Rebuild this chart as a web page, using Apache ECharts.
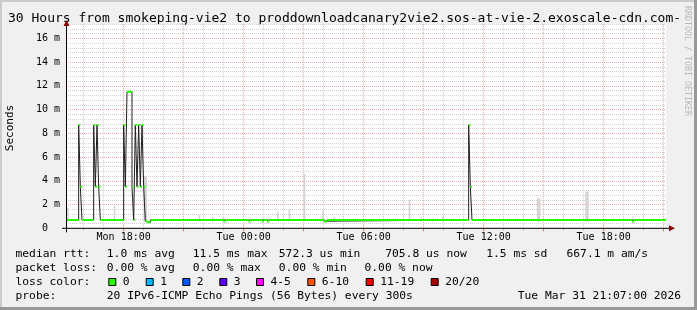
<!DOCTYPE html>
<html><head><meta charset="utf-8">
<script src="https://cdn.jsdelivr.net/npm/echarts@6/dist/echarts.min.js"></script>
<style>html,body{margin:0;padding:0;background:#f0f0f0}#c{width:697px;height:310px}</style>
</head><body><div id="c"></div>
<script>
// ---------- data ----------
const TITLE = '30 Hours from smokeping-vie2 to proddownloadcanary2vie2.sos-at-vie-2.exoscale-cdn.com-';
const X_MIN = 907;   // minutes since Mon 00:00 (Mon 15:07)
const X_MAX = 2707;  // Tue 21:07
const Y_MAX = 17.2;  // milliseconds
const xLabelValues = [1080, 1440, 1800, 2160, 2520];
const xLabelTexts = ['Mon 18:00', 'Tue 00:00', 'Tue 06:00', 'Tue 12:00', 'Tue 18:00'];
const yLabelValues = [0, 2, 4, 6, 8, 10, 12, 14, 16];
const yLabelTexts = ['{z|0}', '2 m', '4 m', '6 m', '8 m', '10 m', '12 m', '14 m', '16 m'];

// median RTT (ms), step changes: value holds from time until next time
const medianTime  = [907, 945, 950, 955, 990, 995, 1000, 1005, 1010, 1080, 1085, 1090, 1105, 1110, 1115, 1120, 1125, 1130, 1135, 1140, 1145, 1150, 1160, 1380, 1385, 1455, 1460, 1495, 1500, 1510, 1515, 1680, 1690, 2115, 2120, 2125, 2605, 2610];
const medianValue = [0.7, 8.7, 3.5, 0.7, 8.7, 3.5, 8.7, 3.5, 0.7, 8.7, 3.5, 11.5, 3.5, 0.7, 8.7, 3.5, 8.7, 3.5, 8.7, 3.5, 0.6, 0.5, 0.7, 0.6, 0.7, 0.6, 0.7, 0.6, 0.7, 0.6, 0.7, 0.6, 0.7, 8.7, 3.5, 0.7, 0.6, 0.7];

// smoke (spread of the 20 pings), ms
const smokeStart = [910, 1050, 1140, 1305, 1345, 1375, 1540, 1575, 1620, 1675, 1710, 1935, 1970, 2005, 2035, 2320, 2465, 2545];
const smokeEnd   = [915, 1055, 1150, 1310, 1350, 1380, 1545, 1580, 1625, 1680, 1715, 1940, 1975, 2010, 2040, 2330, 2475, 2550];
const smokeLow   = [0.55, 0.55, 0.6, 0.55, 0.55, 0.55, 0.55, 0.55, 0.55, 0.55, 0.55, 0.55, 0.55, 0.55, 0.55, 0.55, 0.55, 0.55];
const smokeHigh  = [1.7, 1.9, 4.4, 1.1, 0.95, 0.9, 1.4, 1.55, 4.6, 1.5, 0.95, 2.4, 0.9, 0.85, 1.0, 2.5, 3.1, 0.85];

// legend texts
const statRows = [
  ['median rtt:', '1.0 ms avg', '11.5 ms max', '572.3 us min', '705.8 us now', '1.5 ms sd', '667.1 m am/s'],
  ['packet loss:', '0.00 % avg', '0.00 % max', '0.00 % min', '0.00 % now']
];
const lossLabels = ['0', '1', '2', '3', '4-5', '6-10', '11-19', '20/20'];
const lossColors = ['#26ff00', '#00b8ff', '#0059ff', '#5e00ff', '#ff00ff', '#ff5500', '#ff0000', '#a10000'];
const probeText = '20 IPv6-ICMP Echo Pings (56 Bytes) every 300s';
const dateText = 'Tue Mar 31 21:07:00 2026';
const watermark = 'RRDTOOL / TOBI OETIKER';

// ---------- layout ----------
const G = {left: 66, top: 24, width: 600, height: 204.3};
const MONO = "'DejaVu Sans Mono', monospace";

const hourTicks = []; for (let m = 960; m <= 2700; m += 60) if (m % 180 !== 0) hourTicks.push(m);
const majorTicks = []; for (let m = 1080; m <= 2700; m += 180) majorTicks.push(m);
const yMinor = []; for (let k = 1; k * 0.4 <= Y_MAX + 1e-9; k++) if (k % 5 !== 0) yMinor.push(+(k * 0.4).toFixed(1));

const medianLine = medianTime.map((t, i) => [t, medianValue[i]]);
medianLine.push([X_MAX, medianValue[medianValue.length - 1]]);
const medianSegs = medianTime.map((t, i) => [t, i + 1 < medianTime.length ? medianTime[i + 1] : X_MAX, medianValue[i]]);
const smokeData = smokeStart.map((s, i) => [s, smokeEnd[i], smokeLow[i], smokeHigh[i]]);

const gridDash = {type: [1, 1], width: 1};
const chart = echarts.init(document.getElementById('c'), null, {renderer: 'canvas'});

const legendX = [16, 107.3, 193.3, 279.3, 385.7, 486.7, 567];
const legendX2 = [16, 107.3, 193.3, 279.3, 365];
const sqX = [108.3, 145.7, 182.3, 219.3, 256, 307.3, 365.7, 430.7];
const rowY = [254, 268, 282, 296];
const LF = "11.3px " + MONO;

const graphics = [];
// borders
graphics.push({type: 'rect', shape: {x: 0, y: 0, width: 697, height: 2}, style: {fill: '#cbcbcb'}, silent: true});
graphics.push({type: 'rect', shape: {x: 0, y: 0, width: 2, height: 310}, style: {fill: '#cbcbcb'}, silent: true});
graphics.push({type: 'rect', shape: {x: 694, y: 0, width: 3, height: 310}, style: {fill: '#999'}, silent: true});
graphics.push({type: 'rect', shape: {x: 0, y: 307, width: 697, height: 3}, style: {fill: '#999'}, silent: true});
// title
graphics.push({type: 'text', x: 8, y: 19, style: {text: TITLE, font: "13px " + MONO, fill: '#000', align: 'left', verticalAlign: 'middle'}});
// unit
graphics.push({type: 'text', x: 10, y: 128, rotation: Math.PI / 2, style: {text: 'Seconds', font: "11px " + MONO, fill: '#000', align: 'center', verticalAlign: 'middle'}});
// watermark
graphics.push({type: 'text', x: 687, y: 61, rotation: -Math.PI / 2, style: {text: watermark, font: "8.3px " + MONO, fill: '#b8b8b8', align: 'center', verticalAlign: 'middle'}});
// axes lines + arrows
const axY = G.top + G.height;
graphics.push({type: 'line', shape: {x1: 62, y1: axY, x2: 670, y2: axY}, style: {stroke: '#000', lineWidth: 1}, z: 50});
graphics.push({type: 'line', shape: {x1: G.left + 0.5, y1: axY + 4, x2: G.left + 0.5, y2: 22}, style: {stroke: '#000', lineWidth: 1}, z: 50});
graphics.push({type: 'polygon', shape: {points: [[669, axY - 3], [669, axY + 3], [675, axY]]}, style: {fill: '#8b0000'}, z: 51});
graphics.push({type: 'polygon', shape: {points: [[G.left - 2.5, 26], [G.left + 3.5, 26], [G.left + 0.5, 20]]}, style: {fill: '#8b0000'}, z: 51});
// legend rows
statRows[0].forEach((t, i) => graphics.push({type: 'text', x: legendX[i] - 0.5, y: rowY[0], style: {text: t, font: LF, fill: '#000', align: 'left', verticalAlign: 'middle'}}));
statRows[1].forEach((t, i) => graphics.push({type: 'text', x: legendX2[i] - 0.5, y: rowY[1], style: {text: t, font: LF, fill: '#000', align: 'left', verticalAlign: 'middle'}}));
graphics.push({type: 'text', x: 15.5, y: rowY[2], style: {text: 'loss color:', font: LF, fill: '#000', align: 'left', verticalAlign: 'middle'}});
lossLabels.forEach((t, i) => {
  graphics.push({type: 'rect', shape: {x: sqX[i] + 0.5, y: 278.5, width: 7, height: 7}, style: {fill: lossColors[i], stroke: '#000', lineWidth: 1}});
  graphics.push({type: 'text', x: sqX[i] + 14.5, y: rowY[2], style: {text: t, font: LF, fill: '#000', align: 'left', verticalAlign: 'middle'}});
});
graphics.push({type: 'text', x: 15.5, y: rowY[3], style: {text: 'probe:', font: LF, fill: '#000', align: 'left', verticalAlign: 'middle'}});
graphics.push({type: 'text', x: 106.8, y: rowY[3], style: {text: probeText, font: LF, fill: '#000', align: 'left', verticalAlign: 'middle'}});
graphics.push({type: 'text', x: 681, y: rowY[3], style: {text: dateText, font: LF, fill: '#000', align: 'right', verticalAlign: 'middle'}});

const option = {
  animation: false,
  backgroundColor: '#f0f0f0',
  grid: {left: G.left, top: G.top, width: G.width, height: G.height, show: true, backgroundColor: '#ffffff', borderWidth: 0},
  xAxis: [
    {type: 'value', min: X_MIN, max: X_MAX, position: 'bottom',
     axisLine: {show: false}, axisLabel: {show: false},
     axisTick: {show: true, customValues: hourTicks, length: 2, lineStyle: {color: '#bbbbbb'}},
     splitLine: {show: true, lineStyle: Object.assign({color: '#d0d0d0'}, gridDash)}},
    {type: 'value', min: X_MIN, max: X_MAX, position: 'bottom',
     axisLine: {show: false},
     axisTick: {show: true, customValues: majorTicks, length: 3, lineStyle: {color: '#e07070'}},
     axisLabel: {show: true, customValues: xLabelValues, margin: 4, color: '#000', fontFamily: MONO, fontSize: 10,
                 formatter: v => xLabelTexts[xLabelValues.indexOf(v)] || ''},
     splitLine: {show: true, lineStyle: Object.assign({color: '#f0a8a8'}, gridDash)}}
  ],
  yAxis: [
    {type: 'value', min: 0, max: Y_MAX,
     axisLine: {show: false}, axisLabel: {show: false},
     axisTick: {show: false, customValues: yMinor},
     splitLine: {show: true, lineStyle: Object.assign({color: '#d0d0d0'}, gridDash)}},
    {type: 'value', min: 0, max: Y_MAX, position: 'left',
     axisLine: {show: false},
     axisTick: {show: false, customValues: yLabelValues},
     axisLabel: {show: true, customValues: yLabelValues, margin: 6, color: '#000', fontFamily: MONO, fontSize: 10,
                 formatter: v => yLabelTexts[yLabelValues.indexOf(v)] || '',
                 rich: {z: {fontFamily: MONO, fontSize: 10, color: '#000', padding: [0, 12, 0, 0]}}},
     splitLine: {show: true, lineStyle: Object.assign({color: '#f0a8a8'}, gridDash)}}
  ],
  series: [
    {type: 'custom', name: 'smoke', xAxisIndex: 0, yAxisIndex: 0, clip: true, z: 2,
     encode: {x: [0, 1], y: [2, 3]},
     data: smokeData,
     renderItem: (params, api) => {
       const a = api.coord([api.value(0), api.value(3)]);
       const b = api.coord([api.value(1), api.value(2)]);
       return {type: 'rect', shape: {x: a[0], y: a[1], width: b[0] - a[0], height: b[1] - a[1]}, style: {fill: '#d4d4d4'}};
     }},
    {type: 'line', name: 'median', xAxisIndex: 0, yAxisIndex: 0, step: 'end', showSymbol: false, z: 3,
     lineStyle: {color: '#202020', width: 1}, data: medianLine},
    {type: 'custom', name: 'loss0', xAxisIndex: 0, yAxisIndex: 0, clip: true, z: 4,
     encode: {x: [0, 1], y: 2},
     data: medianSegs,
     renderItem: (params, api) => {
       const a = api.coord([api.value(0), api.value(2)]);
       const b = api.coord([api.value(1), api.value(2)]);
       return {type: 'rect', shape: {x: a[0], y: a[1] - 1, width: b[0] - a[0], height: 2}, style: {fill: lossColors[0]}};
     }}
  ],
  graphic: graphics
};
chart.setOption(option);
</script>
</body></html>
